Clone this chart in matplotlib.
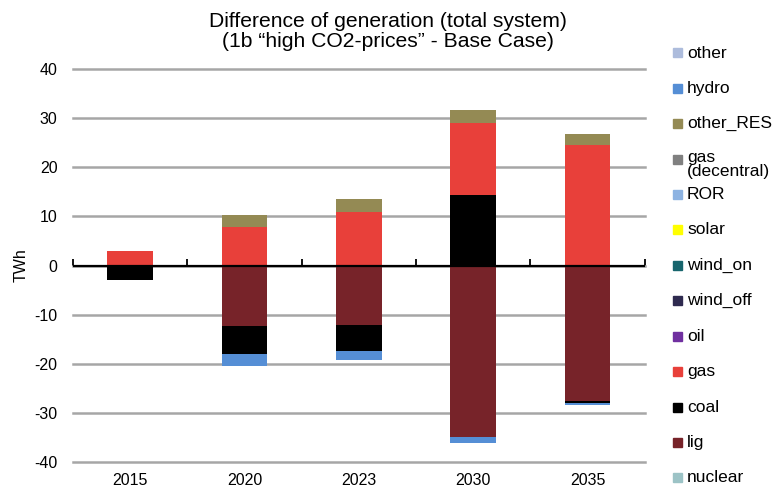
import matplotlib.pyplot as plt
from matplotlib.patches import Rectangle
import numpy as np

plt.rcParams['font.family'] = ['Liberation Sans', 'DejaVu Sans']
plt.rcParams['axes.unicode_minus'] = False

years = ['2015', '2020', '2023', '2030', '2035']

# technologies in stacking order (bottom -> top), values in TWh
techs = ['nuclear', 'lig', 'coal', 'gas', 'oil', 'wind_off', 'wind_on', 'solar',
         'ROR', 'gas\n(decentral)', 'other_RES', 'hydro', 'other']
colors = ['#9cc3c6', '#772329', '#000000', '#e8403a', '#7030a0', '#2e2a4f', '#17656d',
          '#ffff00', '#8db3e2', '#808080', '#948a54', '#558ed5', '#adbcdc']

nuclear = [0, 0, 0, 0, 0]
lig = [0, -12.4, -12.2, -34.9, -27.5]
coal = [-2.9, -5.6, -5.3, 14.3, -0.4]
gas = [2.9, 7.8, 11.0, 14.8, 24.6]
oil = [0, 0, 0, 0, 0]
wind_off = [0, 0, 0, 0, 0]
wind_on = [0, 0, 0, 0, 0]
solar = [0, 0, 0, 0, 0]
ror = [0, 0, 0, 0, 0]
gas_dec = [0, 0, 0, 0, 0]
other_res = [0, 2.5, 2.5, 2.6, 2.1]
hydro = [0, -2.4, -1.8, -1.2, -0.5]
other = [0, 0, 0, 0, 0]

series = [nuclear, lig, coal, gas, oil, wind_off, wind_on, solar,
          ror, gas_dec, other_res, hydro, other]

fig = plt.figure(figsize=(7.75, 4.98), dpi=100)
ax = fig.add_axes([0.094, 0.0723, 0.738, 0.789])

x = np.arange(len(years))
pos_base = np.zeros(len(years))
neg_base = np.zeros(len(years))
for name, vals, c in zip(techs, series, colors):
    v = np.array(vals, dtype=float)
    p = np.where(v > 0, v, 0)
    n = np.where(v < 0, v, 0)
    ax.bar(x, p, 0.4, bottom=pos_base, color=c, zorder=3)
    ax.bar(x, n, 0.4, bottom=neg_base, color=c, zorder=3)
    pos_base += p
    neg_base += n

ax.set_xlim(-0.5, len(years) - 0.5)
ax.set_ylim(-40, 40)
ax.set_yticks(np.arange(-40, 41, 10))
ax.grid(axis='y', color='#a6a6a6', linewidth=1.8, zorder=0)
for gl in ax.get_ygridlines():
    gl.set_clip_on(False)
for s in ax.spines.values():
    s.set_visible(False)
ax.set_xticks(x)
ax.set_xticklabels(years)
ax.tick_params(axis='both', length=0, labelsize=11.5, colors='black')
ax.tick_params(axis='x', pad=8)
ax.tick_params(axis='y', pad=11)
ax.set_ylabel('TWh', fontsize=11.5, labelpad=4)

# zero line with category separator ticks
ax.axhline(0, color='black', linewidth=1.6, zorder=5)
sec = ax.secondary_xaxis(0.5)
sec.set_xticks(np.arange(-0.5, len(years), 1.0))
sec.set_xticklabels([])
sec.tick_params(direction='out', length=5, width=1.3, color='black')
sec.spines['bottom'].set_visible(False)

fig.text(0.5, 0.937, 'Difference of generation (total system)\n(1b \u201chigh CO2-prices\u201d - Base Case)',
         ha='center', va='center', fontsize=15.2, linespacing=1.1)

# legend (reverse order, top = other)
top_y = 1 - 53 / 498
step = 35.4 / 498
for i, (name, c) in enumerate(zip(techs[::-1], colors[::-1])):
    yy = top_y - i * step
    fig.patches.append(Rectangle((673 / 775, yy - 4.5 / 498), 9 / 775, 9 / 498,
                                 transform=fig.transFigure, color=c))
    va = 'center'
    if '\n' in name:
        va = 'top'
        yy = top_y - i * step + 9 / 498
    fig.text(687 / 775, yy, name, ha='left', va=va, fontsize=12.5, linespacing=0.9)

fig.savefig('out.png', dpi=100)
